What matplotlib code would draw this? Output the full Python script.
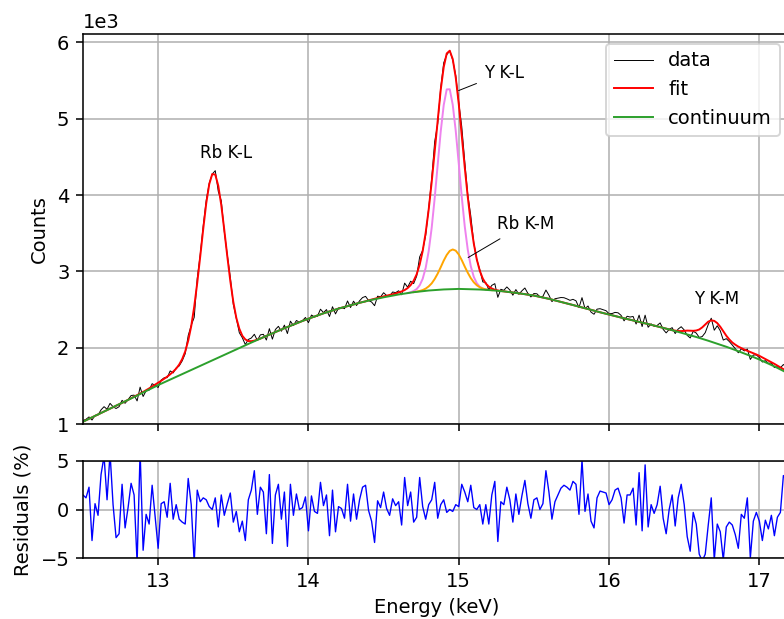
import numpy as np
import matplotlib
matplotlib.use("Agg")
import matplotlib.pyplot as plt
from matplotlib.ticker import ScalarFormatter

plt.rcParams['font.family'] = ['DejaVu Sans']
plt.rcParams['font.size'] = 10

# ---------------- data (energies in keV, counts in units of 1e3) ----------------
energy_start = 12.50
energy_step = 0.02

continuum_k = [
    1.030, 1.049, 1.068, 1.087, 1.106, 1.125, 1.144, 1.163, 1.182, 1.201,
    1.220, 1.239, 1.258, 1.277, 1.296, 1.315, 1.334, 1.354, 1.373, 1.393,
    1.412, 1.432, 1.451, 1.471, 1.490, 1.510, 1.528, 1.546, 1.564, 1.582,
    1.600, 1.618, 1.636, 1.654, 1.672, 1.690, 1.708, 1.726, 1.744, 1.762,
    1.780, 1.798, 1.816, 1.834, 1.852, 1.870, 1.888, 1.906, 1.924, 1.942,
    1.960, 1.978, 1.996, 2.013, 2.031, 2.049, 2.067, 2.084, 2.102, 2.119,
    2.137, 2.154, 2.171, 2.188, 2.205, 2.222, 2.238, 2.255, 2.271, 2.288,
    2.304, 2.319, 2.334, 2.350, 2.365, 2.380, 2.394, 2.408, 2.422, 2.436,
    2.450, 2.462, 2.475, 2.487, 2.500, 2.512, 2.523, 2.534, 2.546, 2.557,
    2.568, 2.578, 2.588, 2.597, 2.607,
    2.617, 2.626, 2.634, 2.643, 2.651, 2.660, 2.667, 2.675, 2.682, 2.690,
    2.697, 2.703, 2.709, 2.715, 2.721, 2.727, 2.731, 2.736, 2.740, 2.745,
    2.749, 2.752, 2.755, 2.757, 2.760, 2.763, 2.764, 2.766, 2.767, 2.769,
    2.770, 2.769, 2.768, 2.768, 2.767, 2.766, 2.764, 2.762, 2.759, 2.757,
    2.755, 2.752, 2.748,
    2.745, 2.741, 2.738, 2.733, 2.728, 2.723, 2.718, 2.713, 2.707, 2.701,
    2.695, 2.689, 2.683, 2.674, 2.666, 2.657, 2.649, 2.640, 2.630, 2.620,
    2.610, 2.600, 2.590, 2.580, 2.569, 2.559, 2.548, 2.538, 2.527, 2.517,
    2.506, 2.496, 2.485, 2.475, 2.464, 2.454, 2.443, 2.433, 2.423, 2.414,
    2.404, 2.395, 2.385, 2.376, 2.366, 2.357, 2.347, 2.338, 2.328, 2.319,
    2.309, 2.300, 2.290, 2.280, 2.270, 2.260, 2.250, 2.240, 2.229,
    2.218, 2.208, 2.197, 2.186, 2.174, 2.163, 2.151, 2.140, 2.128, 2.116,
    2.103, 2.091, 2.078, 2.066, 2.052, 2.039, 2.025, 2.012, 1.998, 1.983,
    1.969, 1.954, 1.940, 1.925, 1.909, 1.893, 1.877, 1.861, 1.845, 1.827,
    1.809, 1.791, 1.773, 1.755, 1.735, 1.715, 1.695, 1.675,
]

fit_k = [
    1.030, 1.049, 1.068, 1.087, 1.106, 1.125, 1.144, 1.163, 1.182, 1.201,
    1.220, 1.239, 1.258, 1.277, 1.296, 1.317, 1.337, 1.358, 1.378, 1.399,
    1.420, 1.443, 1.466, 1.491, 1.515, 1.540, 1.566, 1.593, 1.620, 1.651,
    1.686, 1.726, 1.779, 1.851, 1.950, 2.092, 2.281, 2.537, 2.848, 3.196,
    3.557, 3.893, 4.143, 4.275, 4.268, 4.122, 3.868, 3.543, 3.198, 2.876,
    2.601, 2.391, 2.248, 2.156, 2.108, 2.087, 2.085, 2.092, 2.105, 2.119,
    2.137, 2.154, 2.171, 2.188, 2.205, 2.222, 2.238, 2.255, 2.271, 2.288,
    2.304, 2.319, 2.334, 2.350, 2.365, 2.380, 2.394, 2.408, 2.422, 2.436,
    2.450, 2.462, 2.475, 2.487, 2.500, 2.512, 2.523, 2.534, 2.546, 2.557,
    2.568, 2.578, 2.588, 2.597, 2.607,
    2.620, 2.630, 2.640, 2.651, 2.661, 2.672, 2.681, 2.691, 2.700, 2.710,
    2.724, 2.737, 2.755, 2.781, 2.820, 2.877, 2.961, 3.088, 3.266, 3.507,
    3.810, 4.172, 4.573, 4.980, 5.378, 5.676, 5.855, 5.891, 5.781, 5.539,
    5.195, 4.773, 4.361, 3.975, 3.638, 3.365, 3.156, 3.007, 2.905, 2.840,
    2.800, 2.775, 2.759,
    2.750, 2.743, 2.738, 2.733, 2.728, 2.723, 2.718, 2.713, 2.707, 2.701,
    2.695, 2.689, 2.683, 2.674, 2.666, 2.657, 2.649, 2.640, 2.630, 2.620,
    2.610, 2.600, 2.590, 2.580, 2.569, 2.559, 2.548, 2.538, 2.527, 2.517,
    2.506, 2.496, 2.485, 2.475, 2.464, 2.454, 2.443, 2.433, 2.423, 2.414,
    2.404, 2.395, 2.385, 2.376, 2.366, 2.357, 2.347, 2.338, 2.328, 2.319,
    2.309, 2.300, 2.290, 2.280, 2.270, 2.260, 2.250, 2.240, 2.229,
    2.223, 2.218, 2.217, 2.221, 2.224, 2.223, 2.221, 2.225, 2.238, 2.266,
    2.303, 2.341, 2.358, 2.351, 2.322, 2.274, 2.215, 2.157, 2.108, 2.068,
    2.039, 2.014, 1.995, 1.975, 1.959, 1.943, 1.927, 1.911, 1.893, 1.872,
    1.851, 1.831, 1.810, 1.788, 1.765, 1.742, 1.719, 1.695,
]

residual_pct = [
    1.5, 1.2, 2.3, -3.2, 0.6, -0.6, 3.6, 5.5, 1.0, 5.8,
    0.5, -2.9, -2.5, 2.6, -1.9, 0.2, 2.7, 1.5, -5.5, 6.0,
    -4.2, -0.5, -1.5, 2.5, -0.7, -4.0, 0.6, 0.8, -0.8, 2.7,
    -1.0, 0.5, -1.0, -1.3, -1.5, 3.2, 0.5, -5.5, 2.0, 0.8,
    1.2, 1.0, 0.3, 0.0, 1.2, -1.8, 1.5, -0.6, 0.6, 1.7,
    -1.3, -0.2, -2.3, -1.2, -3.2, 1.0, 2.0, 4.0, -0.5, 2.3,
    1.8,
    -2.5, 3.6, -3.5, 1.5, 2.6, -1.0, 1.8, -3.8, 2.6, -0.6,
    1.6, 0.0, 0.2, 1.3, -2.2, 1.4, -0.2, -0.4, 2.8, 0.4,
    1.5, -2.7, 2.0, -2.3, 0.3, 0.1, -0.9, 2.6, -1.2, 1.6,
    -1.0, 1.0, 2.3, 2.5, -0.1, -1.2, -3.4, 0.9, 0.2, 1.8,
    0.1, -0.6, 1.1, 0.4, 0.8, -1.6, 3.3, 0.4, 1.8, -1.3,
    -0.8, 3.3, 0.3, -1.0, 0.5, 1.0, 2.8,
    -0.9, 0.5, 1.0, -0.3, 0.0, -0.2, 0.5, 0.3, 2.6, 1.8,
    0.8, 2.5, 0.2, 0.0, 0.5, -1.5, 0.5, -1.5, 1.5, 2.9,
    -3.3, 0.8, 0.5, 2.3, 1.0, -1.3, 1.6, -0.5, 1.4, 3.0,
    0.6, -0.9, 1.0, 1.2, 0.0, 0.6, 4.0, 1.8, -1.0, 0.8,
    1.5, 2.2, 2.5, 2.3, 2.0, 2.9, 2.6, -0.5, 5.1, -0.2,
    1.6, -1.2, -1.9, 1.2, 1.9, 1.8, 1.7, 0.5, 1.0, 2.0,
    2.2, 1.2, -1.4, 1.5, 1.5, 2.2, -1.6, 3.8, -2.2, 4.6,
    -1.8, 0.5, -0.4, 0.5, 2.4, -0.9, -2.5, 0.0, 1.5, -1.7,
    1.2, 2.6, 0.5, -2.8, -4.3, -0.3, -1.5, -4.6, -5.3, -4.6,
    -1.6, 1.2, -5.2, -1.5, -2.3, -5.2, -1.8, -1.3, -1.6, -2.6,
    -4.0, -0.5, -0.9, 1.2, -5.0, -1.2, -0.3, -1.2, -3.2, -1.1,
    -2.0, -0.6, -2.7, -0.8, -0.3, 3.5, 3.0,
]

# individual line components (continuum + peak), in units of 1e3 counts
y_kl_start = 14.66
y_kl_k = [
    2.717, 2.727, 2.743, 2.768, 2.817, 2.902, 3.046, 3.265, 3.572, 3.961,
    4.400, 4.831, 5.179, 5.384, 5.386, 5.183, 4.840, 4.413, 3.975, 3.588,
    3.284, 3.068, 2.928, 2.845, 2.799, 2.775, 2.763, 2.757,
]
rb_km_start = 14.70
rb_km_k = [
    2.728, 2.734, 2.743, 2.755, 2.774, 2.803, 2.843, 2.900, 2.971, 3.054,
    3.141, 3.215, 3.268, 3.287, 3.271, 3.221, 3.147, 3.062, 2.982, 2.912,
    2.857, 2.818, 2.791, 2.774, 2.764, 2.758, 2.753,
]

x_ticks = [13, 14, 15, 16, 17]
count_ticks_k = [1, 2, 3, 4, 5, 6]
residual_ticks = [-5, 0, 5]

# labels: (text, left x keV, centre y 1e3 counts, arrow target x, arrow target y)
peak_labels = [
    ("Rb K-L", 13.278, 4.555, None, None),
    ("Y K-L", 15.168, 5.604, 14.975, 5.35),
    ("Rb K-M", 15.252, 3.621, 15.04, 3.155),
    ("Y K-M", 16.567, 2.634, None, None),
]

# ---------------- derived arrays ----------------
n = len(fit_k)
if len(continuum_k) != n or len(residual_pct) != n:
    raise SystemExit(f"length mismatch {n} {len(continuum_k)} {len(residual_pct)}")
energy = np.round(energy_start + energy_step * np.arange(n), 2)
fit = np.array(fit_k) * 1e3
continuum = np.array(continuum_k) * 1e3
residual = np.array(residual_pct)
data = fit * (1 + residual / 100.0)
e_ykl = np.round(y_kl_start + energy_step * np.arange(len(y_kl_k)), 2)
e_rbkm = np.round(rb_km_start + energy_step * np.arange(len(rb_km_k)), 2)

# ---------------- figure ----------------
DPI = 140
W, H = 784, 619
fig = plt.figure(figsize=(W / DPI, H / DPI), dpi=DPI)
left = 83 / W
right_px = 83 + 4.7 * 150.3
ax = fig.add_axes([left, (H - 424) / H, (right_px - 83) / W, 390 / H])
axr = fig.add_axes([left, (H - 558) / H, (right_px - 83) / W, 97 / H], sharex=ax)

ax.plot(e_ykl, np.array(y_kl_k) * 1e3, color='violet', lw=1.0)
ax.plot(e_rbkm, np.array(rb_km_k) * 1e3, color='orange', lw=1.0)
ax.plot(energy, data, color='black', lw=0.5, label='data')
ax.plot(energy, fit, color='red', lw=1.0, label='fit')
ax.plot(energy, continuum, color='tab:green', lw=1.0, label='continuum')

for text, tx, ty, ax_x, ax_y in peak_labels:
    if ax_x is None:
        ax.text(tx, ty * 1e3, text, ha='left', va='center', fontsize=8.6)
    else:
        ax.annotate(text, xy=(ax_x, ax_y * 1e3), xytext=(tx, ty * 1e3),
                    ha='left', va='center', fontsize=8.6,
                    arrowprops=dict(arrowstyle='-', color='black', lw=0.5))

ax.set_xlim(12.5, 17.2)
ax.set_ylim(1.0e3, 6.11e3)
ax.set_yticks([v * 1e3 for v in count_ticks_k])
fmt = ScalarFormatter(useMathText=False)
fmt.set_powerlimits((3, 3))
ax.yaxis.set_major_formatter(fmt)
ax.set_ylabel('Counts')
ax.grid(True)
ax.tick_params(labelbottom=False)
ax.legend(loc='upper right')

axr.plot(energy, residual, color='blue', lw=0.7)
axr.set_ylim(-5, 5)
axr.set_yticks(residual_ticks)
axr.set_xticks(x_ticks)
axr.set_xlabel('Energy (keV)')
axr.set_ylabel('Residuals (%)')
axr.grid(True)

fig.savefig('out.png', dpi=DPI)
